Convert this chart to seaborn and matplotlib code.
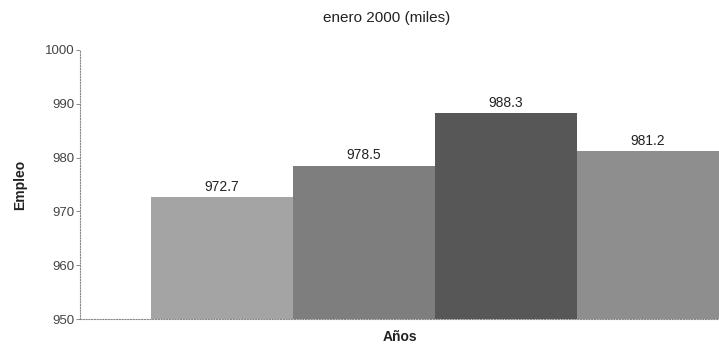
import matplotlib
matplotlib.use("Agg")
import matplotlib.pyplot as plt
import seaborn as sns
import pandas as pd

categories = ["1997", "1998", "1999", "2000"]
values = [972.7, 978.5, 988.3, 981.2]
bar_colors = ["#a4a4a4", "#7e7e7e", "#575757", "#8e8e8e"]
yticks = [950, 960, 970, 980, 990, 1000]

sns.set_theme(style="white")
plt.rcParams['font.family'] = ['Liberation Sans', 'DejaVu Sans']

df = pd.DataFrame({"Años": categories, "Empleo": values})

fig = plt.figure(figsize=(7.19, 3.49), dpi=100)
ax = fig.add_axes([80/719, 30/349, 639/719, 269/349])

sns.barplot(data=df, x="Años", y="Empleo", hue="Años", palette=bar_colors,
            width=1.0, legend=False, ax=ax, saturation=1, edgecolor="none")

ax.set_xlim(-1.0, 3.5)
ax.set_ylim(950, 1000)
ax.set_yticks(yticks)
ax.set_yticklabels([str(t) for t in yticks], fontsize=9.5, color="#444444")
ax.set_xticks([])
ax.set_xlabel("Años", fontsize=10, fontweight="bold", color="#222222", labelpad=8)
ax.set_ylabel("Empleo", fontsize=10, fontweight="bold", color="#222222", labelpad=13)
ax.tick_params(axis="y", length=3, width=0.6, color="#777777", pad=1, left=True, direction="out")

for s in ["top", "right"]:
    ax.spines[s].set_visible(False)
for s in ["left", "bottom"]:
    ax.spines[s].set_linestyle((0, (1, 1.5)))
    ax.spines[s].set_color("#888888")
    ax.spines[s].set_linewidth(0.8)

for i, v in enumerate(values):
    ax.text(i, v + 0.6, f"{v:.1f}", ha="center", va="bottom", fontsize=10, color="#222222")

fig.text(387/719, 1 - 18/349, "enero 2000 (miles)", ha="center", va="center",
         fontsize=11, color="#222222")

fig.savefig("out.png", dpi=100)
